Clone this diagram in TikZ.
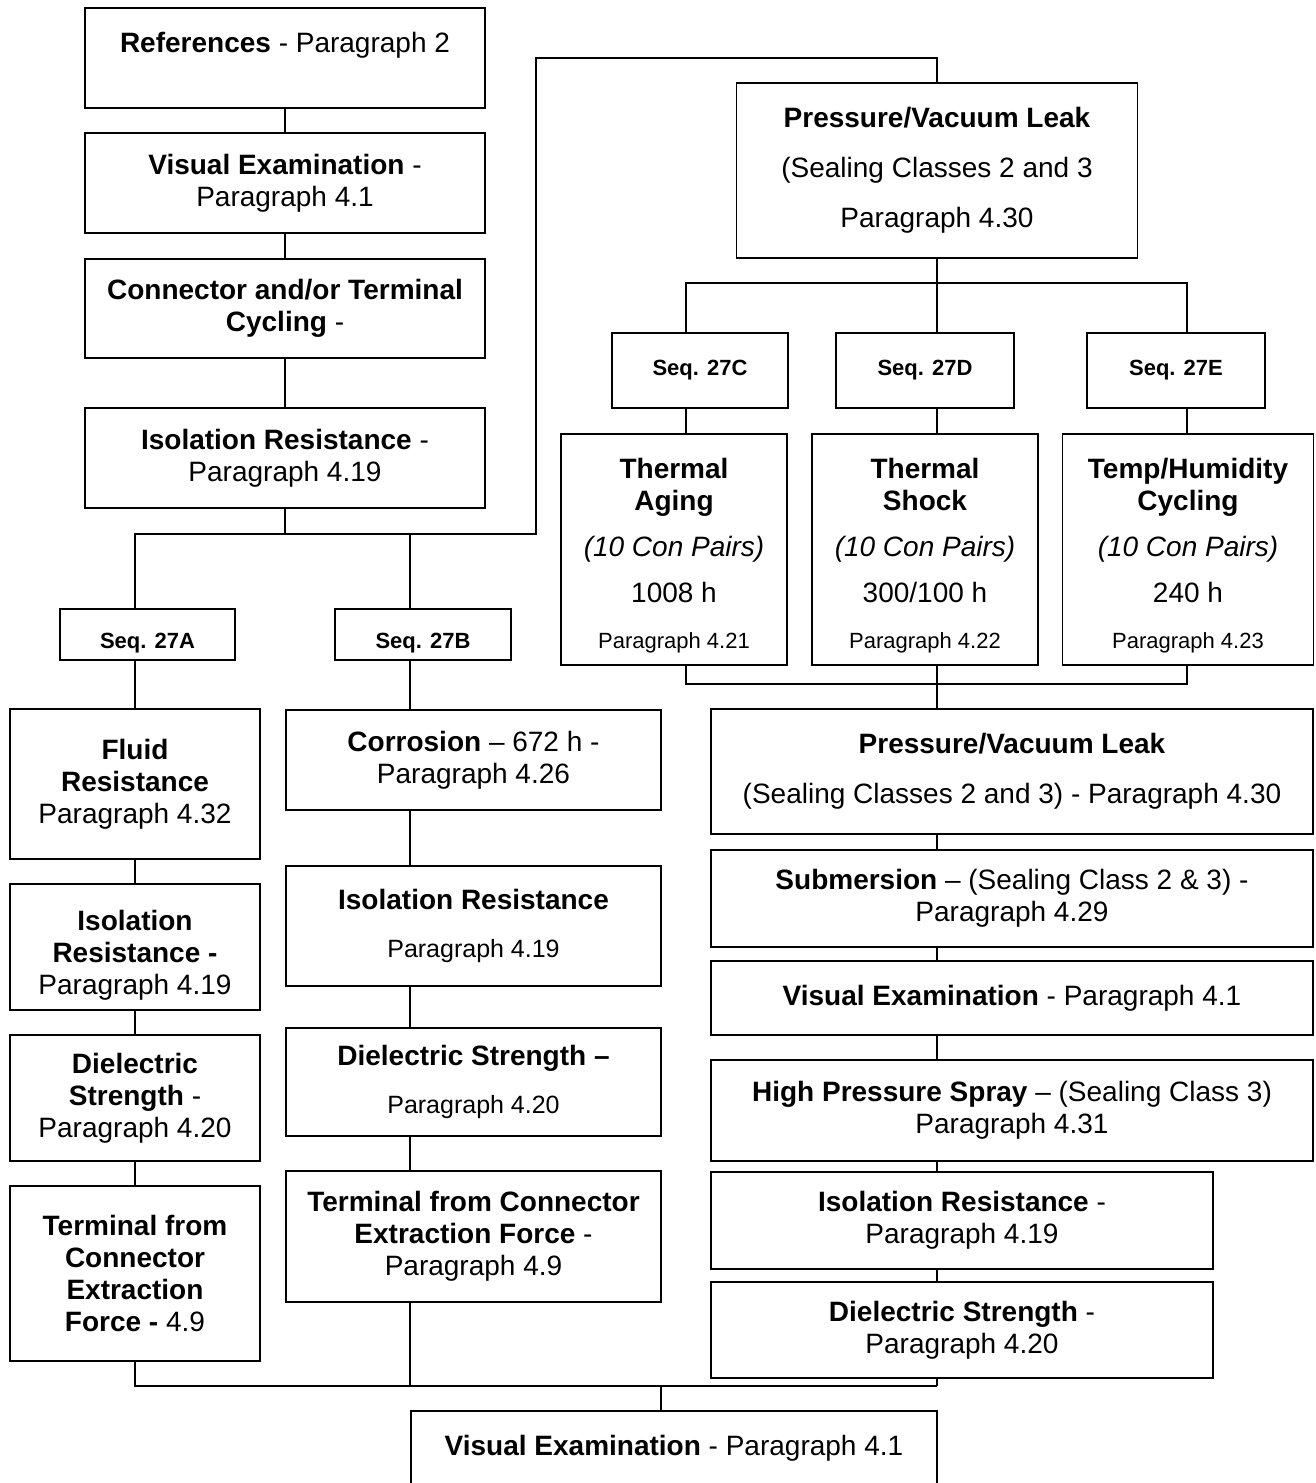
\documentclass[tikz,border=0pt]{standalone}
\usepackage{fontspec}
\setmainfont{Liberation Sans}
\usetikzlibrary{positioning}

\begin{document}
\begin{tikzpicture}[x=1pt,y=-1pt,line width=1.5pt, every node/.style={font=\fontsize{28}{32}\selectfont}]
\tikzstyle{box}=[draw, align=center, inner sep=0pt]
\tikzstyle{seqbox}=[box, font=\bfseries\fontsize{22}{26}\selectfont]
\tikzstyle{tallbox}=[box, minimum height=231pt]
\newcommand{\smalltxt}{\fontsize{22}{26}\selectfont}
\newcommand{\lowstrut}{\rule{0pt}{33pt}}
\useasboundingbox (0,0) rectangle (1316,1483);
\node[box, minimum width=400pt, minimum height=100pt] (ref) at (285,58) {\textbf{References} - Paragraph 2\\ \mbox{}};
\node[box, minimum width=400pt, minimum height=100pt] (vis1) at (285,183) {\textbf{Visual Examination} -\\Paragraph 4.1};
\node[box, minimum width=400pt, minimum height=99pt] (cyc) at (285,308.5) {\textbf{Connector and/or Terminal}\\\textbf{Cycling} -};
\node[box, minimum width=400pt, minimum height=100pt] (ir1) at (285,458) {\textbf{Isolation Resistance} -\\Paragraph 4.19};
\node[seqbox, minimum width=175pt, minimum height=51pt] (s27a) at (147.5,634.5) {\rule{0pt}{32pt}Seq. 27A};
\node[seqbox, minimum width=176pt, minimum height=51pt] (s27b) at (423,634.5) {\rule{0pt}{32pt}Seq. 27B};
\node[box, minimum width=250pt, minimum height=150pt] (fluid) at (135,784) {\textbf{Fluid}\\\textbf{Resistance}\\Paragraph 4.32};
\node[box, minimum width=250pt, minimum height=126pt] (ira) at (135,947) {\rule{0pt}{36pt}\textbf{Isolation}\\\textbf{Resistance -}\\Paragraph 4.19};
\node[box, minimum width=250pt, minimum height=126pt] (dsa) at (135,1098) {\textbf{Dielectric}\\\textbf{Strength} -\\Paragraph 4.20};
\node[box, minimum width=250pt, minimum height=175pt] (tca) at (135,1273.5) {\textbf{Terminal from}\\\textbf{Connector}\\\textbf{Extraction}\\\textbf{Force -} 4.9};
\node[box, minimum width=375pt, minimum height=100pt] (corr) at (473.5,760) {\textbf{Corrosion} -- 672 h -\\Paragraph 4.26};
\node[box, minimum width=375pt, minimum height=120pt] (irb) at (473.5,926) {\textbf{Isolation Resistance}\\[16pt]{\fontsize{25}{28}\selectfont Paragraph 4.19}};
\node[box, minimum width=375pt, minimum height=108pt] (dsb) at (473.5,1082) {\textbf{Dielectric Strength --}\\[16pt]{\fontsize{25}{28}\selectfont Paragraph 4.20}};
\node[box, minimum width=375pt, minimum height=131pt] (tcb) at (473.5,1236.5) {\textbf{Terminal from Connector}\\\textbf{Extraction Force} -\\Paragraph 4.9};
\node[box, minimum width=401pt, minimum height=175pt] (pv1) at (937,170.5) {\textbf{Pressure/Vacuum Leak}\\[18pt](Sealing Classes 2 and 3\\[18pt]Paragraph 4.30};
\node[seqbox, minimum width=176pt, minimum height=75pt] (s27c) at (700,370.5) {Seq. 27C};
\node[seqbox, minimum width=178pt, minimum height=75pt] (s27d) at (925,370.5) {Seq. 27D};
\node[seqbox, minimum width=178pt, minimum height=75pt] (s27e) at (1176,370.5) {Seq. 27E};
\node[tallbox, minimum width=226pt] (ta) at (674,549.5) {\lowstrut\textbf{Thermal}\\\textbf{Aging}\\[14pt]\textit{(10 Con Pairs)}\\[14pt]1008 h\\[14pt]{\smalltxt Paragraph 4.21}};
\node[tallbox, minimum width=226pt] (ts) at (925,549.5) {\lowstrut\textbf{Thermal}\\\textbf{Shock}\\[14pt]\textit{(10 Con Pairs)}\\[14pt]300/100 h\\[14pt]{\smalltxt Paragraph 4.22}};
\node[tallbox, minimum width=251pt] (th) at (1188,549.5) {\lowstrut\textbf{Temp/Humidity}\\\textbf{Cycling}\\[14pt]\textit{(10 Con Pairs)}\\[14pt]240 h\\[14pt]{\smalltxt Paragraph 4.23}};
\node[box, minimum width=602pt, minimum height=125pt] (pv2) at (1012,771.5) {\textbf{Pressure/Vacuum Leak}\\[18pt](Sealing Classes 2 and 3) - Paragraph 4.30};
\node[box, minimum width=602pt, minimum height=97pt] (sub) at (1012,898.5) {\textbf{Submersion} -- (Sealing Class 2 \& 3) -\\Paragraph 4.29};
\node[box, minimum width=602pt, minimum height=74pt] (vis2) at (1012,998) {\textbf{Visual Examination} - Paragraph 4.1};
\node[box, minimum width=602pt, minimum height=101pt] (hps) at (1012,1110.5) {\textbf{High Pressure Spray} -- (Sealing Class 3)\\Paragraph 4.31};
\node[box, minimum width=502pt, minimum height=97pt] (irr) at (962,1220.5) {\textbf{Isolation Resistance} -\\Paragraph 4.19};
\node[box, minimum width=502pt, minimum height=96pt] (dsr) at (962,1330) {\textbf{Dielectric Strength} -\\Paragraph 4.20};
\node[box, minimum width=526pt, minimum height=74pt] (vis3) at (674,1448) {\textbf{Visual Examination} - Paragraph 4.1};
\coordinate (ja) at (135,534); \coordinate (jb) at (410,534); \coordinate (jr) at (536,534); \coordinate (jt) at (536,58);
\coordinate (kt) at (937,283); \coordinate (kc) at (686,283); \coordinate (ke) at (1187,283); \coordinate (kb) at (937,684);
\coordinate (jl) at (135,1386); \coordinate (jv) at (661,1386); \coordinate (jq) at (937,1386);
\draw (ref) -- (vis1); \draw (vis1) -- (cyc); \draw (cyc) -- (ir1); \draw (ir1) -- (ir1 |- ja);
\draw (s27a.north -| ja) -- (ja) -- (jr) -- (jt) -| (pv1); \draw (jb) -- (jb |- s27b.north);
\draw (s27a.south -| ja) -- (fluid); \draw (fluid) -- (ira); \draw (ira) -- (dsa); \draw (dsa) -- (tca);
\draw (jb |- s27b.south) -- (jb |- corr.north); \draw (jb |- corr.south) -- (jb |- irb.north);
\draw (jb |- irb.south) -- (jb |- dsb.north); \draw (jb |- dsb.south) -- (jb |- tcb.north); \draw (jb |- tcb.south) -- (jb |- jl);
\draw (pv1) -- (kt); \draw (kc |- s27c.north) -- (kc) -- (ke) -- (ke |- s27e.north); \draw (kt) -- (kt |- s27d.north);
\draw (kc |- s27c.south) -- (kc |- ta.north); \draw (kt |- s27d.south) -- (kt |- ts.north); \draw (ke |- s27e.south) -- (ke |- th.north);
\draw (kc |- ta.south) -- (kc |- kb) -- (ke |- kb) -- (ke |- th.south); \draw (kb |- ts.south) -- (kb |- pv2.north);
\draw (kb |- pv2.south) -- (kb |- sub.north); \draw (kb |- sub.south) -- (kb |- vis2.north); \draw (kb |- vis2.south) -- (kb |- hps.north);
\draw (kb |- hps.south) -- (kb |- irr.north); \draw (kb |- irr.south) -- (kb |- dsr.north); \draw (kb |- dsr.south) -- (jq);
\draw (tca) -- (jl) -- (jq); \draw (jv) -- (jv |- vis3.north);
\end{tikzpicture}
\end{document}
